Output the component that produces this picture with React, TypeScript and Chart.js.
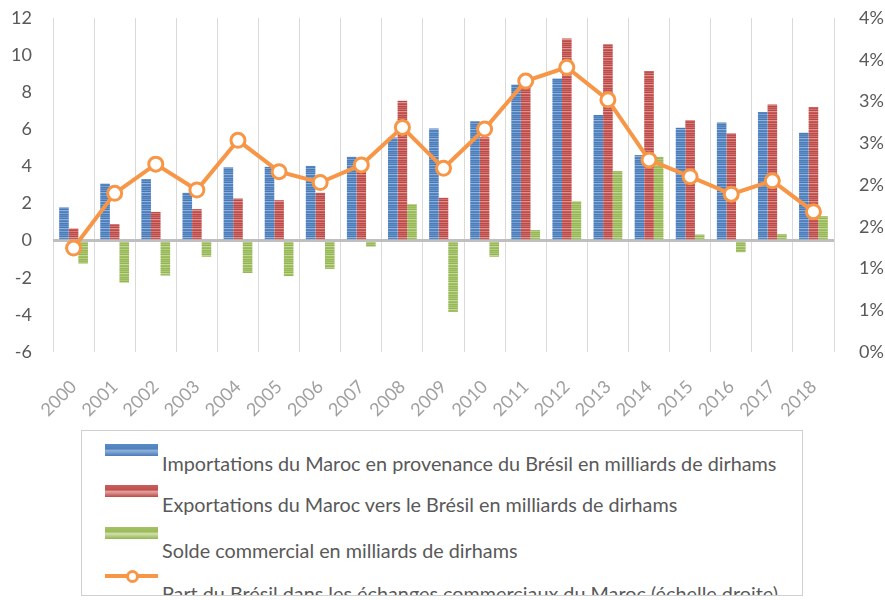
import React, { useEffect, useRef } from "react";
import { Chart, registerables } from "chart.js";

Chart.register(...registerables);

const years = ["2000","2001","2002","2003","2004","2005","2006","2007","2008","2009","2010","2011","2012","2013","2014","2015","2016","2017","2018"];
const imports = [1.79, 3.08, 3.32, 2.58, 3.95, 3.98, 4.03, 4.52, 5.56, 6.05, 6.44, 8.42, 8.74, 6.77, 4.61, 6.08, 6.37, 6.94, 5.81];
const exportsVals = [0.66, 0.89, 1.55, 1.70, 2.27, 2.18, 2.58, 4.19, 7.54, 2.31, 5.57, 8.95, 10.9, 10.59, 9.14, 6.50, 5.78, 7.34, 7.21];
const solde = [-1.23, -2.27, -1.88, -0.87, -1.74, -1.91, -1.52, -0.33, 1.97, -3.84, -0.87, 0.57, 2.13, 3.75, 4.52, 0.33, -0.62, 0.35, 1.32];
const share = [1.245, 1.90, 2.25, 1.94, 2.535, 2.16, 2.03, 2.24, 2.69, 2.20, 2.67, 3.245, 3.41, 3.02, 2.30, 2.10, 1.89, 2.05, 1.68];

const labelImports = "Importations du Maroc en provenance du Brésil en milliards de dirhams";
const labelExports = "Exportations du Maroc vers le Brésil en milliards de dirhams";
const labelSolde = "Solde commercial en milliards de dirhams";
const labelShare = "Part du Brésil dans les échanges commerciaux du Maroc (échelle droite)";

const FONT = "Lato, 'Open Sans', sans-serif";
const RED_SW = "#c0504d";
const ORANGE = "#f79646";

function makePattern(rows: string[]): CanvasPattern | string {
  const c = document.createElement("canvas");
  c.width = 6;
  c.height = rows.length;
  const ctx = c.getContext("2d");
  if (!ctx) return rows[0];
  rows.forEach((col, i) => {
    ctx.fillStyle = col;
    ctx.fillRect(0, i, 6, 1);
  });
  const p = ctx.createPattern(c, "repeat");
  return p || rows[0];
}

export default function App() {
  const ref = useRef<HTMLCanvasElement | null>(null);

  useEffect(() => {
    if (!ref.current) return;
    const bluePat = makePattern(["#4f81bd", "#6f96cb", "#4678b6", "#93b2da", "#5586c2", "#4d80bc", "#7ea2d2", "#4a7cb9", "#5e8dc6"]);
    const redPat = makePattern(["#c0504d", "#cf716f", "#b84744", "#dc9593", "#c55a57", "#bf4e4b", "#d47c7a", "#bb4a47", "#c96663"]);
    const greenPat = makePattern(["#9bbb59", "#adc878", "#93b550", "#c3d89c", "#a0bf61", "#99ba57", "#b5cd86", "#96b754", "#a6c46c"]);

    const chart = new Chart(ref.current, {
      type: "bar",
      data: {
        labels: years,
        datasets: [
          {
            type: "line",
            label: labelShare,
            data: share,
            yAxisID: "y1",
            borderColor: ORANGE,
            borderWidth: 4,
            pointRadius: 7,
            pointBorderWidth: 3,
            pointBackgroundColor: "#ffffff",
            pointBorderColor: ORANGE,
            tension: 0,
            order: 0,
          } as any,
          {
            label: labelImports,
            data: imports,
            yAxisID: "y",
            backgroundColor: bluePat as any,
            order: 1,
          },
          {
            label: labelExports,
            data: exportsVals,
            yAxisID: "y",
            backgroundColor: redPat as any,
            order: 1,
          },
          {
            label: labelSolde,
            data: solde,
            yAxisID: "y",
            backgroundColor: greenPat as any,
            order: 1,
          },
        ],
      },
      options: {
        responsive: false,
        animation: false,
        devicePixelRatio: 1,
        layout: { padding: { top: 18, left: 0, right: 0, bottom: 0 } },
        plugins: {
          legend: { display: false },
          tooltip: { enabled: false },
        },
        datasets: {
          bar: { categoryPercentage: 0.7, barPercentage: 1.0 },
        },
        scales: {
          x: {
            grid: {
              display: true,
              color: "#d9d9d9",
              lineWidth: 1,
              drawTicks: false,
              offset: true,
            },
            border: { display: false },
            ticks: {
              color: "#a0a0a0",
              font: { family: FONT, size: 18 },
              minRotation: 45,
              maxRotation: 45,
              padding: 24,
              autoSkip: false,
            },
            afterFit: (scale: any) => {
              scale.height = 248;
            },
          },
          y: {
            position: "left",
            min: -6,
            max: 12,
            grid: {
              drawTicks: false,
              color: (ctx: any) => (ctx.tick && ctx.tick.value === 0 ? "#bfbfbf" : "rgba(0,0,0,0)"),
              lineWidth: (ctx: any) => (ctx.tick && ctx.tick.value === 0 ? 3 : 0),
            },
            border: { display: false },
            ticks: {
              stepSize: 2,
              color: "#595959",
              font: { family: FONT, size: 18 },
              padding: 21,
            },
            afterFit: (scale: any) => {
              scale.width = 53;
              scale.paddingTop = 0;
              scale.paddingBottom = 0;
            },
          },
          y1: {
            position: "right",
            min: 0,
            max: 4,
            grid: { display: false, drawTicks: false },
            border: { display: false },
            ticks: {
              stepSize: 0.5,
              color: "#595959",
              font: { family: FONT, size: 18 },
              padding: 25,
              callback: (v: any) => Math.round(Number(v)) + "%",
            },
            afterFit: (scale: any) => {
              scale.width = 51;
              scale.paddingTop = 0;
              scale.paddingBottom = 0;
            },
          },
        },
      },
    });
    return () => chart.destroy();
  }, []);

  const textStyle: React.CSSProperties = {
    position: "absolute",
    left: 80,
    fontFamily: FONT,
    fontSize: 19.8,
    color: "#595959",
    whiteSpace: "nowrap",
    lineHeight: "20px",
  };
  const sw = (top: number, bg: string): React.CSSProperties => ({
    position: "absolute",
    left: 23,
    top,
    width: 53,
    height: 12,
    background: bg,
  });

  return (
    <div style={{ position: "absolute", left: 0, top: 0, width: 885, height: 600, background: "#fff" }}>
      <canvas ref={ref} width={885} height={600} style={{ width: 885, height: 600, display: "block" }} />
      <div
        style={{
          position: "absolute",
          left: 81,
          top: 430,
          width: 720,
          height: 164,
          border: "1px solid #d0d0d0",
          overflow: "hidden",
          background: "#fff",
        }}
      >
        <div style={sw(13, `linear-gradient(#5b8cc8, #4f81bd 40%, #8fb0da 55%, #4a7cb9)`)} />
        <div style={{ ...textStyle, top: 22 }}>{labelImports}</div>
        <div style={sw(54, `linear-gradient(#c85f5c, ${RED_SW} 40%, #e2a3a1 55%, #bb4a47)`)} />
        <div style={{ ...textStyle, top: 63 }}>{labelExports}</div>
        <div style={sw(96, `linear-gradient(#a4c266, #9bbb59 40%, #d0e0ae 55%, #94b451)`)} />
        <div style={{ ...textStyle, top: 109 }}>{labelSolde}</div>
        <div style={{ position: "absolute", left: 23, top: 143, width: 53, height: 4, background: ORANGE }} />
        <div
          style={{
            position: "absolute",
            left: 44,
            top: 139,
            width: 7,
            height: 7,
            borderRadius: "50%",
            border: `3px solid ${ORANGE}`,
            background: "#fff",
          }}
        />
        <div style={{ ...textStyle, top: 152 }}>{labelShare}</div>
      </div>
    </div>
  );
}
